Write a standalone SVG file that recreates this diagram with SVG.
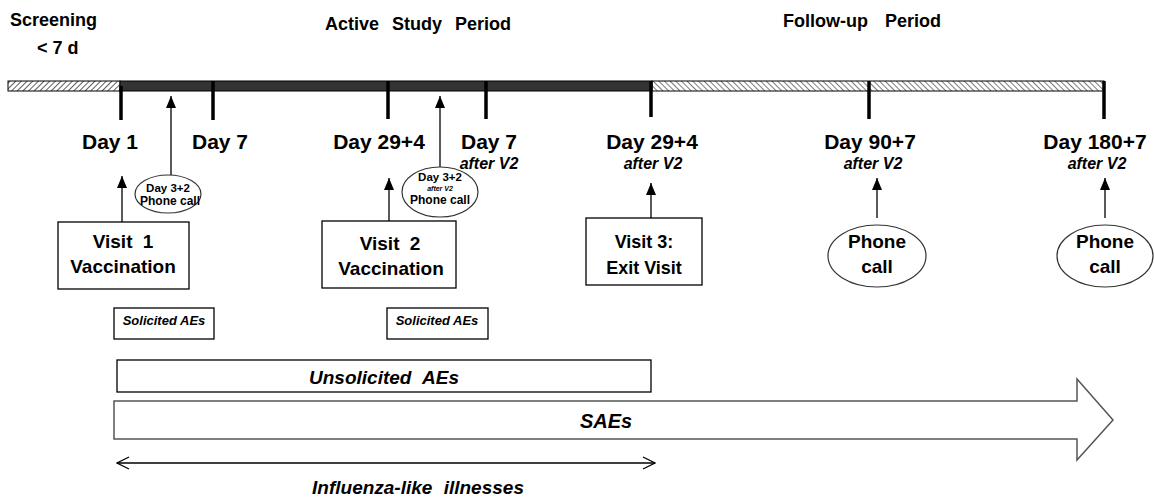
<svg xmlns="http://www.w3.org/2000/svg" width="1154" height="499" viewBox="0 0 1154 499">
<style>
.t{font-family:"Liberation Sans",Arial,sans-serif;font-weight:bold;fill:#000}
.it{font-style:italic}
.box{fill:#fff;stroke:#000;stroke-width:1.3}
.ell{fill:#fff;stroke:#333;stroke-width:1.2}
.tick{stroke:#000;stroke-width:3.5}
.arr{stroke:#000;stroke-width:1.3;fill:none;marker-end:url(#ah2)}
</style>
<defs>
<marker id="ah2" viewBox="0 0 12 10" refX="12" refY="5" markerWidth="12" markerHeight="10" markerUnits="userSpaceOnUse" orient="auto">
<path d="M0,0 L12,5 L0,10 Z" fill="#000"/>
</marker>
<marker id="chev" viewBox="0 0 14 14" refX="13" refY="7" markerWidth="14" markerHeight="14" markerUnits="userSpaceOnUse" orient="auto-start-reverse">
<path d="M1,1 L13,7 L1,13" fill="none" stroke="#000" stroke-width="1.3"/>
</marker>
<pattern id="hatchL" width="4" height="4" patternUnits="userSpaceOnUse" patternTransform="rotate(45)">
<rect width="4" height="4" fill="#fff"/><line x1="0" y1="0" x2="0" y2="4" stroke="#333" stroke-width="1.6"/>
</pattern>
<pattern id="hatchR" width="4" height="4" patternUnits="userSpaceOnUse" patternTransform="rotate(-45)">
<rect width="4" height="4" fill="#fff"/><line x1="0" y1="0" x2="0" y2="4" stroke="#444" stroke-width="1.4"/>
</pattern>
</defs>
<rect width="1154" height="499" fill="#fff"/>

<g id="headers">
<text class="t" x="10" y="26" font-size="18">Screening</text>
<text class="t" x="37" y="54" font-size="18">&lt; 7 d</text>
<text class="t" x="418" y="30" font-size="18" text-anchor="middle" word-spacing="8">Active Study Period</text>
<text class="t" x="862" y="27" font-size="18" text-anchor="middle" word-spacing="12">Follow-up Period</text>
</g>

<g id="timeline">
<rect x="8" y="81" width="112" height="10" fill="url(#hatchL)" stroke="#000" stroke-width="1"/>
<rect x="120" y="81" width="532" height="10" fill="#333" stroke="#000" stroke-width="1"/>
<rect x="652" y="81" width="452" height="10" fill="url(#hatchR)" stroke="#000" stroke-width="1"/>
<line class="tick" x1="121" y1="86" x2="121" y2="120"/>
<line class="tick" x1="213" y1="81" x2="213" y2="120"/>
<line class="tick" x1="388" y1="81" x2="388" y2="119"/>
<line class="tick" x1="486" y1="81" x2="486" y2="119"/>
<line class="tick" x1="651" y1="81" x2="651" y2="117"/>
<line class="tick" x1="869" y1="81" x2="869" y2="119"/>
<line class="tick" x1="1104" y1="81" x2="1104" y2="119"/>
</g>

<g id="day-labels">
<text class="t" x="110" y="149" font-size="21" text-anchor="middle">Day 1</text>
<text class="t" x="220" y="149" font-size="21" text-anchor="middle">Day 7</text>
<text class="t" x="379" y="149" font-size="21" text-anchor="middle">Day 29+4</text>
<text class="t" x="489" y="149" font-size="21" text-anchor="middle">Day 7</text>
<text class="t it" x="489" y="169" font-size="16" text-anchor="middle">after V2</text>
<text class="t" x="652" y="149" font-size="21" text-anchor="middle">Day 29+4</text>
<text class="t it" x="653" y="169" font-size="16" text-anchor="middle">after V2</text>
<text class="t" x="870" y="149" font-size="21" text-anchor="middle">Day 90+7</text>
<text class="t it" x="873" y="169" font-size="16" text-anchor="middle">after V2</text>
<text class="t" x="1095" y="149" font-size="21" text-anchor="middle">Day 180+7</text>
<text class="t it" x="1097" y="169" font-size="16" text-anchor="middle">after V2</text>
</g>

<g id="connectors">
<line class="arr" x1="122" y1="222" x2="122" y2="176"/>
<line class="arr" x1="171" y1="175" x2="171" y2="96"/>
<line class="arr" x1="389" y1="221" x2="389" y2="178"/>
<line class="arr" x1="440" y1="167" x2="440" y2="96"/>
<line class="arr" x1="651" y1="218" x2="651" y2="183"/>
<line class="arr" x1="877" y1="218" x2="877" y2="178"/>
<line class="arr" x1="1105" y1="218" x2="1105" y2="178"/>
<line x1="117" y1="463" x2="655" y2="463" stroke="#000" stroke-width="1.3" marker-start="url(#chev)" marker-end="url(#chev)"/>
</g>

<g id="phone1">
<ellipse class="ell" cx="168" cy="194" rx="33" ry="19"/>
<text class="t" x="168" y="192" font-size="11.5" text-anchor="middle">Day 3+2</text>
<text class="t" x="170" y="205" font-size="12" text-anchor="middle">Phone call</text>
</g>

<g id="phone2">
<ellipse class="ell" cx="440" cy="192" rx="38" ry="25"/>
<text class="t" x="440" y="181" font-size="11.5" text-anchor="middle">Day 3+2</text>
<text class="t it" x="440" y="191" font-size="7" text-anchor="middle">after V2</text>
<text class="t" x="440" y="204" font-size="12" text-anchor="middle">Phone call</text>
</g>

<g id="visit1">
<rect class="box" x="58" y="222" width="131" height="67"/>
<text class="t" x="123" y="248" font-size="19" text-anchor="middle" word-spacing="5">Visit 1</text>
<text class="t" x="123" y="273" font-size="19" text-anchor="middle">Vaccination</text>
</g>

<g id="visit2">
<rect class="box" x="322" y="221" width="134" height="67"/>
<text class="t" x="390" y="250" font-size="19" text-anchor="middle" word-spacing="5">Visit 2</text>
<text class="t" x="391" y="275" font-size="19" text-anchor="middle">Vaccination</text>
</g>

<g id="visit3">
<rect class="box" x="586" y="218" width="116" height="67"/>
<text class="t" x="644" y="248" font-size="18" text-anchor="middle">Visit 3:</text>
<text class="t" x="644" y="274" font-size="18" text-anchor="middle">Exit Visit</text>
</g>

<g id="phone3">
<ellipse class="ell" cx="877" cy="256" rx="49" ry="31"/>
<text class="t" x="877" y="248" font-size="19" text-anchor="middle">Phone</text>
<text class="t" x="877" y="273" font-size="19" text-anchor="middle">call</text>
</g>

<g id="phone4">
<ellipse class="ell" cx="1105" cy="256" rx="48" ry="31"/>
<text class="t" x="1105" y="248" font-size="19" text-anchor="middle">Phone</text>
<text class="t" x="1105" y="273" font-size="19" text-anchor="middle">call</text>
</g>

<g id="solicited1">
<rect class="box" x="114" y="308" width="100" height="31"/>
<text class="t it" x="164" y="325" font-size="13" text-anchor="middle">Solicited AEs</text>
</g>

<g id="solicited2">
<rect class="box" x="387" y="308" width="101" height="31"/>
<text class="t it" x="437" y="325" font-size="13" text-anchor="middle">Solicited AEs</text>
</g>

<g id="unsolicited">
<rect class="box" x="117" y="360" width="534" height="32"/>
<text class="t it" x="384" y="384" font-size="19" text-anchor="middle" word-spacing="6">Unsolicited AEs</text>
</g>

<g id="saes">
<path d="M114,401 L1077,401 L1077,379 L1113,420 L1077,460 L1077,439 L114,439 Z" fill="#fff" stroke="#555" stroke-width="1.5"/>
<text class="t it" x="606" y="428" font-size="20" text-anchor="middle">SAEs</text>
</g>

<g id="ili">
<text class="t it" x="418" y="494" font-size="19" text-anchor="middle" word-spacing="6">Influenza-like illnesses</text>
</g>
</svg>
